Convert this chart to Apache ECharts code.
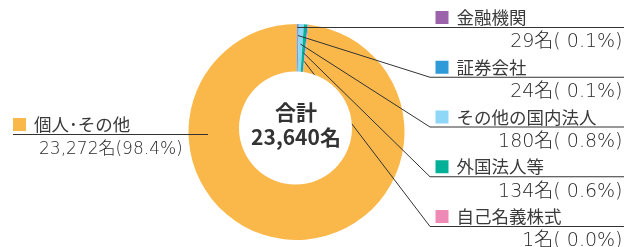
<!DOCTYPE html>
<html>
<head>
<meta charset="utf-8">
<script src="https://cdn.jsdelivr.net/npm/echarts@6/dist/echarts.min.js"></script>
<style>
  html, body { margin: 0; padding: 0; background: #fff; }
  #chart { width: 624px; height: 247px; }
</style>
</head>
<body>
<div id="chart"></div>
<script>
const names = ['金融機関', '証券会社', 'その他の国内法人', '外国法人等', '自己名義株式', '個人･その他'];
const counts = [29, 24, 180, 134, 1, 23272];
const colors = ['#9c63aa', '#2f9ad8', '#8fd7f6', '#00b198', '#ef89b5', '#fab84b'];

const total = counts.reduce((a, b) => a + b, 0);
const cx = 296.5, cy = 132;
const jp = '"Noto Sans CJK JP", sans-serif';
const num = '"DejaVu Sans", "Noto Sans CJK JP", sans-serif';

function pct(v) {
  const p = (v / total * 100).toFixed(1);
  return (p.length < 4 ? ' ' : '') + p;
}

const rich = {
  name: { fontSize: 17.5, color: '#3a3a3a', padding: [0, 0, 0, 8], lineHeight: 23, fontFamily: jp },
  val: { fontSize: 19, color: '#2a2a2a', width: 187, align: 'right', lineHeight: 27, fontFamily: num, fontWeight: 200 },
  valL: { fontSize: 17, color: '#2a2a2a', padding: [0, 0, 0, 26], lineHeight: 27, fontFamily: num, fontWeight: 200 }
};
colors.forEach((c, i) => {
  rich['sq' + i] = { width: 13, height: 13, backgroundColor: c };
});

const pieData = names.map((n, i) => ({ name: n, value: counts[i], itemStyle: { color: colors[i] } }));
const base = {
  type: 'pie',
  center: [cx, cy],
  radius: [0, 108],
  startAngle: 90,
  clockwise: true,
  minAngle: 0.6,
  avoidLabelOverlap: false,
  silent: true
};

const chart = echarts.init(document.getElementById('chart'));

chart.setOption({
  animation: false,
  series: [
    Object.assign({}, base, {
      z: 2,
      data: pieData,
      label: { show: false },
      labelLine: { show: false }
    }),
    // transparent copy on top, only carries labels and leader lines
    Object.assign({}, base, {
      z: 5,
      data: pieData.map(d => ({ name: d.name, value: d.value, itemStyle: { color: 'rgba(0,0,0,0)' } })),
      label: {
        show: true,
        position: 'outside',
        rich: rich,
        formatter: p => {
          const last = p.dataIndex === names.length - 1;
          return `{sq${p.dataIndex}|}{name|${p.name}}\n{${last ? 'valL' : 'val'}|${p.value.toLocaleString('en-US')}名(${pct(p.value)}%)}`;
        }
      },
      labelLine: {
        show: true,
        lineStyle: { color: '#333', width: 1 }
      },
      labelLayout: function (params) {
        const i = params.dataIndex;
        if (i === names.length - 1) {
          const uy = 134.5;
          return {
            x: 13, y: uy + 3.5, align: 'left', verticalAlign: 'middle',
            labelLinePoints: [[208, uy], [110, uy], [13, uy]]
          };
        }
        const uy = 27.5 + 49.75 * i;
        const p0 = params.labelLinePoints[0];
        const ang = Math.atan2(p0[1] - cy, p0[0] - cx);
        const r = 105 - 8.5 * i;
        const sx = cx + r * Math.cos(ang);
        const sy = cy + r * Math.sin(ang);
        return {
          x: 435.5, y: uy + 3.5, align: 'left', verticalAlign: 'middle',
          labelLinePoints: [[sx, sy], [i === 0 ? sx + 1 : 430, uy], [624, uy]]
        };
      }
    })
  ],
  graphic: [
    { type: 'circle', z: 100, shape: { cx: 295.5, cy: 128, r: 56.5 }, style: { fill: '#fff' } },
    {
      type: 'text', z: 101, x: 296, y: 112,
      style: { text: '合計', align: 'center', verticalAlign: 'middle', font: 'bold 21px ' + jp, fill: '#333' }
    },
    {
      type: 'text', z: 101, x: 296, y: 137,
      style: { text: total.toLocaleString('en-US') + '名', align: 'center', verticalAlign: 'middle', font: 'bold 21px ' + jp, fill: '#333' }
    }
  ]
});
</script>
</body>
</html>
